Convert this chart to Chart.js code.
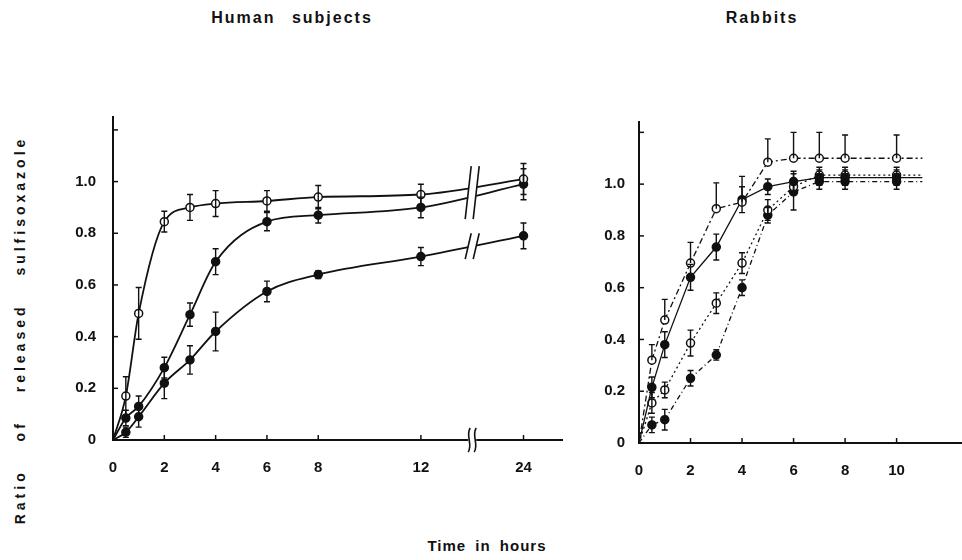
<!DOCTYPE html>
<html>
<head>
<meta charset="utf-8">
<script src="https://cdn.jsdelivr.net/npm/chart.js@4.4.1/dist/chart.umd.min.js"></script>
<style>
  body { margin: 0; width: 962px; height: 560px; background: #fff; position: relative; overflow: hidden;
         font-family: "Liberation Sans", Arial, sans-serif; color: #111; }
  .txt { position: absolute; font-weight: bold; white-space: nowrap; transform: translate(-50%, -50%); }
  #humanBox { position: absolute; left: 40px; top: 90px; width: 540px; height: 400px; }
  #rabbitBox { position: absolute; left: 580px; top: 90px; width: 382px; height: 400px; }
</style>
</head>
<body>
<div class="txt" style="left:292px;top:18px;font-size:16px;letter-spacing:2px;word-spacing:10px">Human subjects</div>
<div class="txt" style="left:762px;top:18px;font-size:16px;letter-spacing:2px">Rabbits</div>
<div class="txt" style="left:487px;top:545px;font-size:15px;letter-spacing:1px;word-spacing:4px">Time in hours</div>
<div class="txt" style="left:20px;top:330px;font-size:14px;letter-spacing:4px;word-spacing:20px;transform:translate(-50%,-50%) rotate(-90deg)">Ratio of released sulfisoxazole</div>

<div id="humanBox"><canvas id="humanChart"></canvas></div>
<div id="rabbitBox"><canvas id="rabbitChart"></canvas></div>

<script>
// ---- Human subjects ----
const humanHours = [0, 0.5, 1, 2, 3, 4, 6, 8, 12, 24];
const humanFast = [0, 0.17, 0.49, 0.845, 0.90, 0.915, 0.925, 0.94, 0.95, 1.01];
const humanFastErr = [0, 0.075, 0.10, 0.04, 0.05, 0.05, 0.04, 0.045, 0.04, 0.06];
const humanMid = [0, 0.085, 0.13, 0.28, 0.485, 0.69, 0.845, 0.87, 0.90, 0.99];
const humanMidErr = [0, 0.03, 0.04, 0.04, 0.045, 0.05, 0.035, 0.03, 0.04, 0.06];
const humanSlow = [0, 0.03, 0.09, 0.22, 0.31, 0.42, 0.575, 0.64, 0.71, 0.79];
const humanSlowErr = [0, 0.02, 0.04, 0.06, 0.055, 0.075, 0.04, 0.015, 0.035, 0.05];
const humanTickHours = [0, 2, 4, 6, 8, 12, 24];

// ---- Rabbits ----
const rabbitHours = [0, 0.5, 1, 2, 3, 4, 5, 6, 7, 8, 10, 11];
const rabbitA = [0, 0.32, 0.475, 0.695, 0.905, 0.93, 1.085, 1.10, 1.10, 1.10, 1.10, 1.10];
const rabbitAErr = [0, 0.06, 0.08, 0.08, 0.10, 0.10, 0.09, 0.10, 0.10, 0.09, 0.09, 0];
const rabbitB = [0, 0.215, 0.38, 0.64, 0.757, 0.94, 0.99, 1.01, 1.025, 1.025, 1.025, 1.025];
const rabbitBErr = [0, 0.04, 0.05, 0.05, 0.05, 0.05, 0.03, 0.04, 0.03, 0.03, 0.03, 0];
const rabbitC = [0, 0.155, 0.205, 0.386, 0.54, 0.695, 0.90, 0.99, 1.035, 1.035, 1.035, 1.035];
const rabbitCErr = [0, 0.04, 0.03, 0.05, 0.04, 0.04, 0.04, 0.03, 0.03, 0.03, 0.03, 0];
const rabbitD = [0, 0.07, 0.09, 0.25, 0.34, 0.60, 0.88, 0.97, 1.01, 1.01, 1.01, 1.01];
const rabbitDErr = [0, 0.03, 0.04, 0.03, 0.02, 0.03, 0.03, 0.07, 0.03, 0.03, 0.03, 0];
const rabbitTickHours = [0, 2, 4, 6, 8, 10];

const yTicks = [0, 0.2, 0.4, 0.6, 0.8, 1.0, 1.2];
const yTickLabels = ["0", "0.2", "0.4", "0.6", "0.8", "1.0", ""];

// broken time axis on the human panel: 12 -> 24 h squeezed into 4 units
const breakAt = 14;
function humanAxis(h) {
  return h <= 12 ? h : 12 + (h - 12) * 4 / 12;
}

const ink = "#111";
const tickFont = { family: "'Liberation Sans', Arial, sans-serif", size: 15, weight: "bold" };

function series(hours, values, err, opts) {
  return Object.assign({
    data: hours.map((h, i) => ({ x: opts.mapX ? opts.mapX(h) : h, y: values[i] })),
    err: err,
    borderColor: ink,
    borderWidth: 1.8,
    pointBorderColor: ink,
    pointBorderWidth: 1.5,
    pointBackgroundColor: opts.open ? "#fff" : ink,
    pointRadius: c => (hours[c.dataIndex] === 0 || hours[c.dataIndex] === 11) ? 0 : 4,
    pointHoverRadius: 4
  }, opts.extra || {});
}

// vertical error bars with small caps
const errorBars = {
  id: "errorBars",
  afterDatasetsDraw(chart) {
    const { ctx, scales: { x, y } } = chart;
    ctx.save();
    ctx.strokeStyle = ink;
    ctx.lineWidth = 1.4;
    chart.data.datasets.forEach(ds => {
      if (!ds.err) return;
      ds.data.forEach((p, i) => {
        const e = ds.err[i];
        if (!e) return;
        const px = x.getPixelForValue(p.x);
        const hi = y.getPixelForValue(p.y + e);
        const lo = y.getPixelForValue(ds.upOnly ? p.y : p.y - e);
        ctx.beginPath();
        ctx.moveTo(px, hi); ctx.lineTo(px, lo);
        ctx.moveTo(px - 3, hi); ctx.lineTo(px + 3, hi);
        if (!ds.upOnly) { ctx.moveTo(px - 3, lo); ctx.lineTo(px + 3, lo); }
        ctx.stroke();
      });
    });
    ctx.restore();
  }
};

// tick marks pointing into the plot
const inwardTicks = {
  id: "inwardTicks",
  afterDraw(chart) {
    const { ctx, chartArea, scales: { x, y } } = chart;
    ctx.save();
    ctx.strokeStyle = ink;
    ctx.lineWidth = 1.5;
    x.ticks.forEach(t => {
      const px = x.getPixelForValue(t.value);
      ctx.beginPath(); ctx.moveTo(px, chartArea.bottom); ctx.lineTo(px, chartArea.bottom - 5); ctx.stroke();
    });
    y.ticks.forEach(t => {
      const py = y.getPixelForValue(t.value);
      ctx.beginPath(); ctx.moveTo(chartArea.left, py); ctx.lineTo(chartArea.left + 5, py); ctx.stroke();
    });
    ctx.restore();
  }
};

// "//" marks where the human time axis is broken
const axisBreak = {
  id: "axisBreak",
  afterDraw(chart) {
    const { ctx, chartArea, scales: { x, y } } = chart;
    const bx = x.getPixelForValue(breakAt);
    const f = (breakAt - humanAxis(12)) / (humanAxis(24) - humanAxis(12));
    const at = arr => arr[8] + (arr[9] - arr[8]) * f;
    ctx.save();
    ctx.fillStyle = "#fff";
    ctx.fillRect(bx - 4, chartArea.top, 8, chartArea.bottom - chartArea.top + 3);
    ctx.strokeStyle = ink;
    ctx.lineWidth = 1.6;
    const slashes = (vTop, vBot) => {
      const t = y.getPixelForValue(vTop), b = y.getPixelForValue(vBot);
      [-4, 4].forEach(dx => {
        ctx.beginPath();
        ctx.moveTo(bx + dx - 3, b); ctx.lineTo(bx + dx + 3, t);
        ctx.stroke();
      });
    };
    slashes(Math.max(at(humanFast), at(humanMid)) + 0.08, Math.min(at(humanFast), at(humanMid)) - 0.09);
    slashes(at(humanSlow) + 0.05, at(humanSlow) - 0.05);
    // squiggle on the axis
    const yb = chartArea.bottom;
    [-3, 3].forEach(dx => {
      ctx.beginPath();
      ctx.moveTo(bx + dx - 1, yb + 12);
      ctx.bezierCurveTo(bx + dx + 4, yb + 4, bx + dx - 4, yb - 4, bx + dx + 1, yb - 12);
      ctx.stroke();
    });
    ctx.restore();
  }
};

function yScale(max, width, pad) {
  return {
    type: "linear", min: 0, max: max,
    afterBuildTicks: s => { s.ticks = yTicks.map(v => ({ value: v })); },
    afterFit: s => { s.width = width; },
    ticks: { callback: (v, i) => yTickLabels[i], color: ink, font: tickFont, padding: pad },
    grid: { display: false },
    border: { display: true, color: ink, width: 2 }
  };
}

function xScale(max, tickHours, mapX, height) {
  return {
    type: "linear", min: 0, max: max,
    afterBuildTicks: s => { s.ticks = tickHours.map(h => ({ value: mapX(h) })); },
    afterFit: s => { s.height = height; },
    ticks: { callback: (v, i) => String(tickHours[i]), color: ink, font: tickFont, padding: 11, maxRotation: 0 },
    grid: { display: false },
    border: { display: true, color: ink, width: 2 }
  };
}

const common = {
  responsive: true,
  maintainAspectRatio: false,
  animation: false,
  plugins: { legend: { display: false }, tooltip: { enabled: false } }
};

new Chart(document.getElementById("humanChart"), {
  type: "line",
  data: {
    datasets: [
      series(humanHours, humanFast, humanFastErr, { open: true, mapX: humanAxis, extra: { cubicInterpolationMode: "monotone" } }),
      series(humanHours, humanMid, humanMidErr, { mapX: humanAxis, extra: { cubicInterpolationMode: "monotone" } }),
      series(humanHours, humanSlow, humanSlowErr, { mapX: humanAxis, extra: { cubicInterpolationMode: "monotone" } })
    ]
  },
  options: Object.assign({}, common, {
    layout: { padding: { top: 27, right: 18, left: 0, bottom: 0 } },
    scales: {
      x: xScale(17.5, humanTickHours, humanAxis, 50),
      y: yScale(1.25, 73, 9)
    }
  }),
  plugins: [errorBars, axisBreak, inwardTicks]
});

new Chart(document.getElementById("rabbitChart"), {
  type: "line",
  data: {
    datasets: [
      series(rabbitHours, rabbitA, rabbitAErr, { open: true, extra: { upOnly: true, borderWidth: 1.3, borderDash: [6, 3, 2, 3] } }),
      series(rabbitHours, rabbitB, rabbitBErr, { extra: { borderWidth: 1.3 } }),
      series(rabbitHours, rabbitC, rabbitCErr, { open: true, extra: { borderWidth: 1.3, borderDash: [2, 3] } }),
      series(rabbitHours, rabbitD, rabbitDErr, { extra: { borderWidth: 1.3, borderDash: [5, 3, 1, 3] } })
    ]
  },
  options: Object.assign({}, common, {
    layout: { padding: { top: 32, right: 1, left: 0, bottom: 0 } },
    scales: {
      x: xScale(12.5, rabbitTickHours, h => h, 47),
      y: yScale(1.24, 59, 6)
    }
  }),
  plugins: [errorBars, inwardTicks]
});
</script>
</body>
</html>
